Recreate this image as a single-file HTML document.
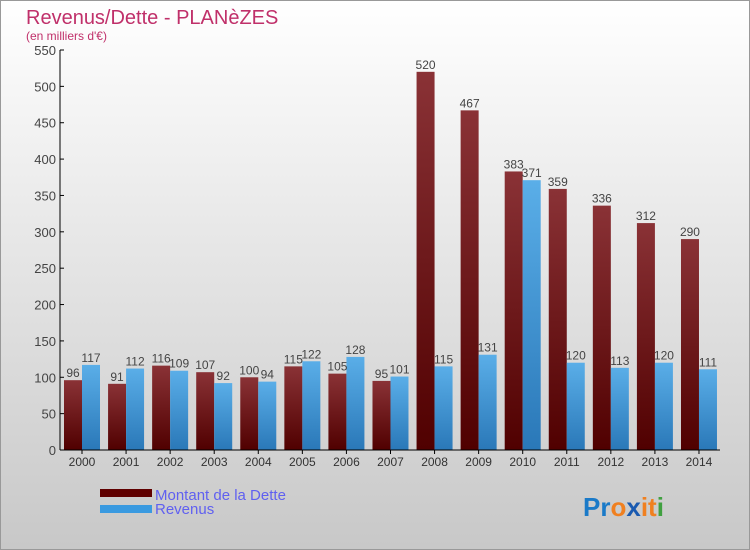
<!DOCTYPE html>
<html><head><meta charset="utf-8"><style>
body{margin:0;width:750px;height:550px;overflow:hidden;font-family:"Liberation Sans",sans-serif}
#wrap{position:absolute;left:0;top:0;width:748px;height:548px;border:1px solid #999;background:linear-gradient(#fff,#c8c8c8)}
</style></head><body>
<div id="wrap">
<svg id="c" width="750" height="550" style="position:absolute;left:-1px;top:-1px">
<defs>
<linearGradient id="gd" x1="0" y1="0" x2="0" y2="1"><stop offset="0" stop-color="#8a3236"/><stop offset="1" stop-color="#500000"/></linearGradient>
<linearGradient id="gr" x1="0" y1="0" x2="0" y2="1"><stop offset="0" stop-color="#5aaee8"/><stop offset="1" stop-color="#2a78b8"/></linearGradient>
</defs>
<text x="26" y="24" font-size="20" fill="#c0306a">Revenus/Dette - PLANèZES</text>
<text x="26" y="40" font-size="12" fill="#c0306a">(en milliers d'€)</text>
<g id="g"></g>
<rect x="100" y="489" width="52" height="8" fill="#600000"/>
<rect x="100" y="505" width="52" height="8" fill="#3a9ae0"/>
<text x="155" y="500" font-size="15" fill="#6060f0">Montant de la Dette</text>
<text x="155" y="514" font-size="15" fill="#6060f0">Revenus</text>
<text x="583" y="516" font-size="26" font-weight="bold"><tspan fill="#1a7ac8">Pr</tspan><tspan fill="#f08020">o</tspan><tspan fill="#1a5ab0">x</tspan><tspan fill="#f08020">it</tspan><tspan fill="#40a040">i</tspan></text>
</svg></div>
<script>
const years=["2000","2001","2002","2003","2004","2005","2006","2007","2008","2009","2010","2011","2012","2013","2014"];
const dette=[96,91,116,107,100,115,105,95,520,467,383,359,336,312,290];
const revenus=[117,112,109,92,94,122,128,101,115,131,371,120,113,120,111];
const ticks=[0,50,100,150,200,250,300,350,400,450,500,550];
const NS="http://www.w3.org/2000/svg",g=document.getElementById('g');
const y=v=>450-v*400/550, x=i=>82+i*44.07;
function el(t,a,txt){const e=document.createElementNS(NS,t);for(const k in a)e.setAttribute(k,a[k]);if(txt!=null)e.textContent=txt;g.appendChild(e);return e;}
ticks.forEach(t=>{const e=el('text',{x:56,y:y(t)+5,'font-size':13,fill:'#444','text-anchor':'end'},t);


el('line',{x1:60,x2:64,y1:y(t),y2:y(t),stroke:'#000'});});
years.forEach((yr,i)=>{
const b1=el('rect',{x:x(i)-18,y:y(dette[i]),width:18,height:450-y(dette[i]),fill:'url(#gd)'});


const b2=el('rect',{x:x(i),y:y(revenus[i]),width:18,height:450-y(revenus[i]),fill:'url(#gr)'});


const l1=el('text',{x:x(i)-9,y:y(dette[i])-3,'font-size':12,fill:'#444','text-anchor':'middle'},dette[i]);


const l2=el('text',{x:x(i)+9,y:y(revenus[i])-3,'font-size':12,fill:'#444','text-anchor':'middle'},revenus[i]);


el('line',{x1:x(i),x2:x(i),y1:450,y2:454,stroke:'#000'});
const t=el('text',{x:x(i),y:466,'font-size':12,fill:'#333','text-anchor':'middle'},yr);


});
const ya=el('line',{x1:60,x2:60,y1:50,y2:450,stroke:'#000'});


const xa=el('line',{x1:60,x2:720,y1:450,y2:450,stroke:'#000'});


</script>
</body></html>
